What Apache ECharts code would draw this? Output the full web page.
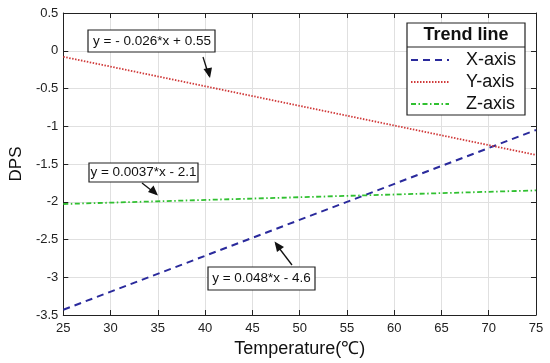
<!DOCTYPE html>
<html><head><meta charset="utf-8">
<script src="https://cdn.jsdelivr.net/npm/echarts@6/dist/echarts.min.js"></script>
<style>html,body{margin:0;padding:0;background:#fff}#c{width:550px;height:363px}</style>
</head><body><div id="c"></div>
<script>
var temps = [25, 75];
var xAxisDps = [-3.43, -1.05];
var yAxisDps = [-0.08, -1.38];
var zAxisDps = [-2.03, -1.85];
var seriesNames = ['X-axis', 'Y-axis', 'Z-axis'];
var equations = ['y = - 0.026*x + 0.55', 'y = 0.0037*x - 2.1', 'y = 0.048*x - 4.6'];

function pairs(vals){ return temps.map(function(t,i){return [t, vals[i]];}); }
var FONT = '"Liberation Sans", Arial, sans-serif';
var chart = echarts.init(document.getElementById('c'));
var axisCommon = {
  axisLine:{show:true,onZero:false,lineStyle:{color:'#222',width:1}},
  axisTick:{show:true,inside:true,length:5,lineStyle:{color:'#222'}},
  splitLine:{show:false}
};
var Z = 100;
chart.setOption({
  animation:false,
  grid:{left:57,right:14,top:13,bottom:46},
  xAxis:[
    Object.assign({type:'value',min:25,max:75,interval:5,position:'bottom',
      axisLabel:{color:'#222',fontFamily:FONT,fontSize:13,margin:7},
      name:'Temperature(℃)',nameLocation:'middle',nameGap:25,
      nameTextStyle:{color:'#111',fontFamily:FONT,fontSize:18}}, axisCommon,
      {splitLine:{show:true,lineStyle:{color:'#e0e0e0',width:1}}}),
    Object.assign({type:'value',min:25,max:75,interval:5,position:'top',axisLabel:{show:false}}, axisCommon)
  ],
  yAxis:[
    Object.assign({type:'value',min:-3.5,max:0.5,interval:0.5,position:'left',
      axisLabel:{color:'#222',fontFamily:FONT,fontSize:13,margin:5},
      name:'DPS',nameLocation:'middle',nameGap:35,
      nameTextStyle:{color:'#111',fontFamily:FONT,fontSize:17}}, axisCommon,
      {splitLine:{show:true,lineStyle:{color:'#e0e0e0',width:1}}}),
    Object.assign({type:'value',min:-3.5,max:0.5,interval:0.5,position:'right',axisLabel:{show:false}}, axisCommon)
  ],
  legend:{
    orient:'vertical',left:405,top:46,itemWidth:38,itemHeight:10,itemGap:4,
    data:seriesNames, z:Z+1,
    itemStyle:{opacity:0},
    textStyle:{fontFamily:FONT,fontSize:18,color:'#111',padding:[0,0,0,12]}
  },
  series:[
    {name:'X-axis',type:'line',data:pairs(xAxisDps),symbol:'none',
      lineStyle:{color:'#2a2a9c',width:2,type:[7,5]},itemStyle:{color:'#2a2a9c'}},
    {name:'Y-axis',type:'line',data:pairs(yAxisDps),symbol:'none',
      lineStyle:{color:'#d03a3a',width:1.8,type:[1.5,1.5]},itemStyle:{color:'#d03a3a'}},
    {name:'Z-axis',type:'line',data:pairs(zAxisDps),symbol:'none',
      lineStyle:{color:'#30c030',width:1.8,type:[5,2.5,1.5,2.5]},itemStyle:{color:'#30c030'}}
  ],
  graphic:[
    {type:'rect',z:Z,shape:{x:407,y:23,width:118,height:92},style:{fill:'#fff',stroke:'#222',lineWidth:1.2}},
    {type:'line',z:Z,shape:{x1:407,y1:47,x2:525,y2:47},style:{stroke:'#222',lineWidth:1.2}},
    {type:'text',z:Z,x:466,y:35.5,style:{text:'Trend line',font:'bold 18px '+FONT,fill:'#111',align:'center',verticalAlign:'middle'}},
    // annotation boxes
    {type:'rect',z:Z,shape:{x:88,y:30,width:127,height:22},style:{fill:'#fff',stroke:'#222',lineWidth:1.2}},
    {type:'text',z:Z,x:152,y:41,style:{text:equations[0],font:'13.5px '+FONT,fill:'#111',align:'center',verticalAlign:'middle'}},
    {type:'rect',z:Z,shape:{x:89,y:163,width:109,height:19},style:{fill:'#fff',stroke:'#222',lineWidth:1.2}},
    {type:'text',z:Z,x:143.5,y:172.5,style:{text:equations[1],font:'13.5px '+FONT,fill:'#111',align:'center',verticalAlign:'middle'}},
    {type:'rect',z:Z,shape:{x:208,y:267,width:107,height:23},style:{fill:'#fff',stroke:'#222',lineWidth:1.2}},
    {type:'text',z:Z,x:261.5,y:278.5,style:{text:equations[2],font:'13.5px '+FONT,fill:'#111',align:'center',verticalAlign:'middle'}},
    // arrows
    {type:'line',z:Z,shape:{x1:203,y1:57,x2:209,y2:76},style:{stroke:'#111',lineWidth:1.3}},
    {type:'polygon',z:Z,shape:{points:[[210,78],[203.5,69],[212,67.5]]},style:{fill:'#111'}},
    {type:'line',z:Z,shape:{x1:142,y1:183,x2:156,y2:194},style:{stroke:'#111',lineWidth:1.3}},
    {type:'polygon',z:Z,shape:{points:[[158,195.5],[148,192],[153.5,185.5]]},style:{fill:'#111'}},
    {type:'line',z:Z,shape:{x1:292,y1:265,x2:276,y2:244},style:{stroke:'#111',lineWidth:1.3}},
    {type:'polygon',z:Z,shape:{points:[[274.5,241.5],[277,252],[284,247]]},style:{fill:'#111'}}
  ]
});
</script></body></html>
